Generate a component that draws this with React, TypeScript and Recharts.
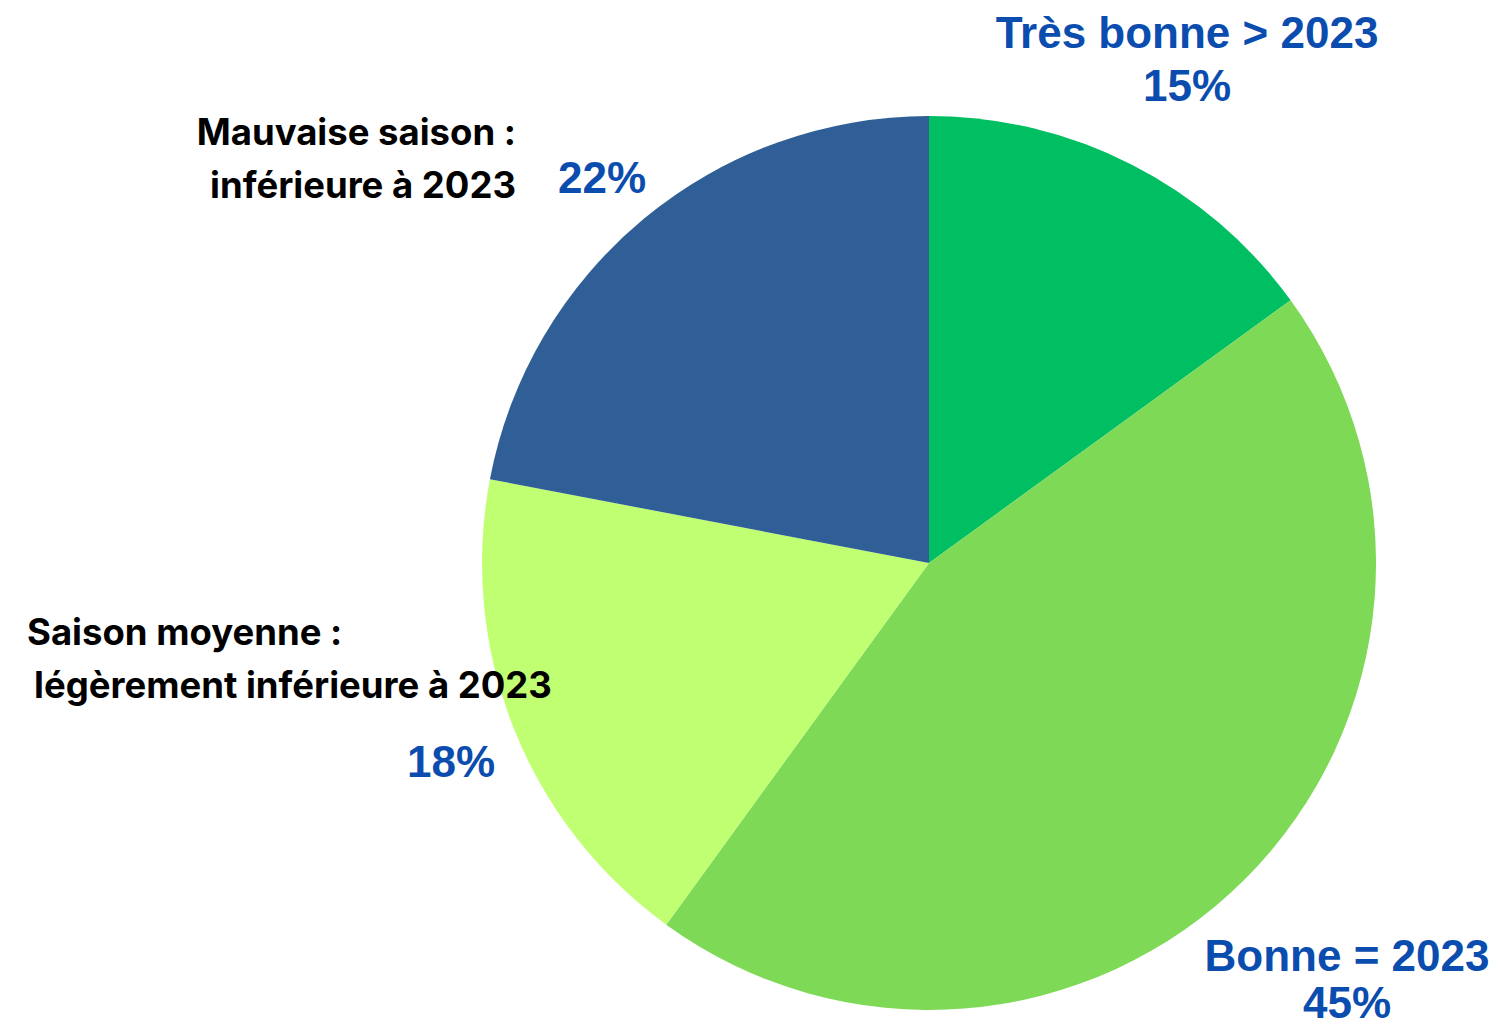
import React from "react";
import { PieChart, Pie, Cell } from "recharts";

const categories = ["Très bonne > 2023", "Bonne = 2023", "Saison moyenne", "Mauvaise saison"];
const values = [15, 45, 18, 22];
const colors = ["#00BF63", "#7ED957", "#C1FF72", "#2F5F96"];
const percentLabels = ["15%", "45%", "18%", "22%"];

const data = categories.map((name, i) => ({ name, value: values[i] }));

const BLUE = "#0B4DAF";
const BLUE_FONT = "'Liberation Sans', Arial, sans-serif";
const BLACK_FONT = "Inter, Roboto, sans-serif";

const renderLabel = (props: any) => {
  const { cx, cy, index } = props;
  const blueStyle = { fontFamily: BLUE_FONT, fontWeight: 700, fontSize: 44, fill: BLUE };
  const blackStyle = { fontFamily: BLACK_FONT, fontWeight: 700, fontSize: 36.5, fill: "#000" };
  if (index === 0) {
    return (
      <g>
        <text x={cx + 258} y={cy - 515} textAnchor="middle" style={blueStyle}>{categories[0]}</text>
        <text x={cx + 258} y={cy - 462} textAnchor="middle" style={blueStyle}>{percentLabels[0]}</text>
      </g>
    );
  }
  if (index === 1) {
    return (
      <g>
        <text x={cx + 418} y={cy + 408} textAnchor="middle" style={blueStyle}>{categories[1]}</text>
        <text x={cx + 418} y={cy + 455} textAnchor="middle" style={blueStyle}>{percentLabels[1]}</text>
      </g>
    );
  }
  if (index === 2) {
    return (
      <g>
        <text x={cx - 902} y={cy + 82} textAnchor="start" style={blackStyle}>Saison moyenne :</text>
        <text x={cx - 895} y={cy + 135} textAnchor="start" style={blackStyle}>légèrement inférieure à 2023</text>
        <text x={cx - 478} y={cy + 214} textAnchor="middle" style={blueStyle}>{percentLabels[2]}</text>
      </g>
    );
  }
  return (
    <g>
      <text x={cx - 413} y={cy - 418} textAnchor="end" style={blackStyle}>Mauvaise saison :</text>
      <text x={cx - 413} y={cy - 365} textAnchor="end" style={blackStyle}>inférieure à 2023</text>
      <text x={cx - 327} y={cy - 370} textAnchor="middle" style={blueStyle}>{percentLabels[3]}</text>
    </g>
  );
};

export default function App() {
  return (
    <div style={{ position: "absolute", left: 0, top: 0, width: 1498, height: 1026, background: "#fff" }}>
      <PieChart width={1498} height={1026} margin={{ top: 0, right: 0, bottom: 0, left: 0 }}>
        <Pie
          data={data}
          dataKey="value"
          nameKey="name"
          cx={929}
          cy={563}
          outerRadius={447}
          startAngle={90}
          endAngle={-270}
          stroke="none"
          label={renderLabel}
          labelLine={false}
          isAnimationActive={false}
        >
          {data.map((d, i) => (
            <Cell key={d.name} fill={colors[i]} />
          ))}
        </Pie>
      </PieChart>
    </div>
  );
}
